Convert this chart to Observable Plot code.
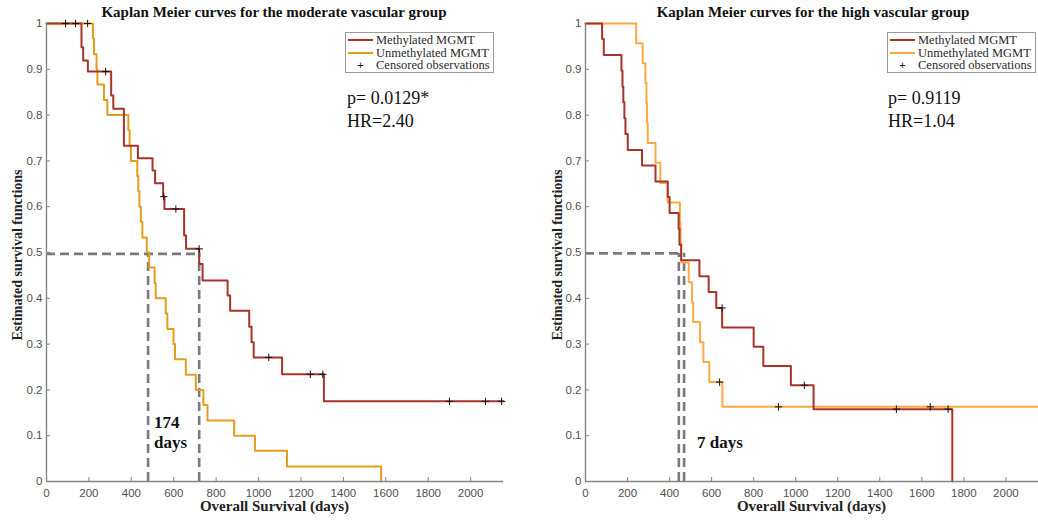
<!DOCTYPE html>
<html>
<head>
<meta charset="utf-8">
<script src="https://cdn.jsdelivr.net/npm/d3@7"></script>
<script src="https://cdn.jsdelivr.net/npm/@observablehq/plot@0.6"></script>
<style>
  body { margin: 0; background: #fff; }
  #wrap { position: relative; width: 1038px; height: 522px; overflow: hidden; background: #fff; }
  .panel { position: absolute; top: 0; width: 519px; height: 522px; }
  .title { position: absolute; top: 4px; font: bold 15px "Liberation Serif", serif; line-height: 17px; color: #111; white-space: nowrap; transform: translateX(-50%); }
  .xlab { position: absolute; top: 498px; font: bold 15px "Liberation Serif", serif; line-height: 17px; color: #222; white-space: nowrap; transform: translateX(-50%); }
  .ylab { position: absolute; font: bold 14px "Liberation Serif", serif; line-height: 16px; color: #222; white-space: nowrap; transform: translate(-50%, -50%) rotate(-90deg); }
  .legend { position: absolute; top: 32px; width: 149px; height: 41px; border: 1px solid #9a9a9a; background: #fff; box-sizing: border-box; font: 12.5px "Liberation Serif", serif; color: #2a2a2a; }
  .row { position: absolute; left: 2px; height: 13px; line-height: 13px; white-space: nowrap; }
  .sw { display: inline-block; width: 25px; height: 2px; vertical-align: middle; margin-right: 3px; position: relative; top: -1px; text-align: center; }
  .plus { display: inline-block; width: 25px; margin-right: 3px; text-align: center; font: 11px "Liberation Sans", sans-serif; color: #111; }
  .stat { position: absolute; font: 18px "Liberation Serif", serif; line-height: 23px; color: #111; white-space: nowrap; }
  .ann { position: absolute; font: bold 17px "Liberation Serif", serif; line-height: 20px; color: #111; white-space: nowrap; }
</style>
</head>
<body>
<div id="wrap"></div>
<script>
// ---------- shared axis values ----------
const xMax = 2155;
const xTicks = [0, 200, 400, 600, 800, 1000, 1200, 1400, 1600, 1800, 2000];
const yTicks = [0, 0.1, 0.2, 0.3, 0.4, 0.5, 0.6, 0.7, 0.8, 0.9, 1];

// ---------- moderate vascular group ----------
const modMethTime = [0, 165, 173, 195, 305, 315, 365, 431, 500, 512, 550, 556, 649, 658, 720, 736, 854, 866, 956, 967, 977, 1111, 1308, 2155];
const modMethSurv = [1, 0.948, 0.919, 0.895, 0.843, 0.814, 0.733, 0.706, 0.679, 0.651, 0.622, 0.595, 0.537, 0.508, 0.475, 0.439, 0.406, 0.373, 0.338, 0.304, 0.271, 0.234, 0.175, 0.175];
const modUnmethTime = [0, 219, 224, 236, 240, 271, 287, 386, 392, 398, 428, 433, 438, 445, 452, 473, 484, 510, 515, 562, 570, 599, 606, 657, 704, 740, 759, 885, 983, 1134, 1578];
const modUnmethSurv = [1, 0.967, 0.933, 0.9, 0.867, 0.833, 0.8, 0.767, 0.733, 0.7, 0.667, 0.633, 0.6, 0.567, 0.533, 0.5, 0.467, 0.433, 0.4, 0.367, 0.333, 0.3, 0.267, 0.233, 0.2, 0.167, 0.133, 0.1, 0.067, 0.033, 0];
const modCensTime = [90, 137, 194, 279, 553, 610, 720, 1048, 1244, 1303, 1900, 2070, 2146];
const modCensSurv = [1, 1, 1, 0.895, 0.622, 0.595, 0.508, 0.271, 0.234, 0.234, 0.175, 0.175, 0.175];
const modMedianSurv = 0.497;
const modMedians = [479, 720];
const modP = "p= 0.0129*";
const modHR = "HR=2.40";
const modDiff = ["174", "days"];

// ---------- high vascular group ----------
const highMethTime = [0, 79, 87, 171, 176, 180, 185, 190, 201, 269, 333, 391, 400, 443, 447, 455, 542, 586, 622, 650, 800, 846, 977, 1085, 1745];
const highMethSurv = [1, 0.966, 0.931, 0.897, 0.862, 0.828, 0.793, 0.759, 0.724, 0.69, 0.655, 0.621, 0.586, 0.552, 0.517, 0.483, 0.448, 0.414, 0.379, 0.336, 0.294, 0.252, 0.21, 0.158, 0];
const highUnmethTime = [0, 241, 272, 285, 290, 293, 296, 333, 356, 391, 449, 452, 455, 491, 507, 512, 545, 561, 589, 651, 2155];
const highUnmethSurv = [1, 0.957, 0.913, 0.87, 0.826, 0.783, 0.739, 0.696, 0.652, 0.609, 0.565, 0.522, 0.478, 0.435, 0.391, 0.348, 0.304, 0.261, 0.217, 0.163, 0.163];
const highCensTime = [650, 1041, 1479, 1725, 638, 918, 1640];
const highCensSurv = [0.379, 0.21, 0.158, 0.158, 0.217, 0.163, 0.163];
const highMedianSurv = 0.498;
const highMedians = [444, 469];
const highP = "p= 0.9119";
const highHR = "HR=1.04";
const highDiff = ["7 days"];

const seriesNames = ["Methylated MGMT", "Unmethylated MGMT", "Censored observations"];
const titles = ["Kaplan Meier curves for the moderate vascular group", "Kaplan Meier curves for the high vascular group"];
const xLabel = "Overall Survival (days)";
const yLabel = "Estimated survival functions";

const zip = (t, s) => t.map((d, i) => ({t: d, s: s[i]}));
const axisColor = "#858585";

function makePlot(cfg) {
  const H = 522, mt = 23, mb = 41;
  const innerW = 519 - cfg.ml - cfg.mr, innerH = H - mt - mb;
  const dash = {stroke: "#7a7a7a", strokeWidth: 2.6, strokeDasharray: "9,5"};
  return Plot.plot({
    width: 519, height: H,
    marginTop: mt, marginBottom: mb, marginLeft: cfg.ml, marginRight: cfg.mr,
    x: {domain: [0, xMax]},
    y: {domain: [0, 1]},
    style: {fontFamily: "'Liberation Sans', Arial, sans-serif", fontSize: "11.5px", color: "#505050", background: "transparent", overflow: "visible"},
    marks: [
      Plot.tickX(xTicks, {x: d => d, stroke: axisColor, insetTop: innerH - 4}),
      Plot.tickY(yTicks, {y: d => d, stroke: axisColor, insetRight: innerW - 4}),
      Plot.axisX({ticks: xTicks, tickSize: 0, tickPadding: 7, tickFormat: d => String(d), label: null}),
      Plot.axisY({ticks: yTicks, tickSize: 0, tickPadding: 4, tickFormat: d => String(+d.toFixed(1)), label: null}),
      Plot.ruleY([cfg.medianSurv], {x1: 0, x2: Math.max(...cfg.medians), ...dash}),
      Plot.ruleX(cfg.medians, {x: d => d, y1: 0, y2: cfg.medianSurv, ...dash}),
      Plot.line(cfg.unmeth, {x: "t", y: "s", curve: "step-after", stroke: cfg.orange, strokeWidth: 2}),
      Plot.line(cfg.meth, {x: "t", y: "s", curve: "step-after", stroke: cfg.red, strokeWidth: 2}),
      Plot.dot(cfg.cens, {x: "t", y: "s", symbol: "plus", r: 2.5, stroke: "#111", strokeWidth: 1}),
      Plot.ruleY([0], {stroke: axisColor, strokeWidth: 1.4}),
      Plot.ruleX([0], {stroke: axisColor, strokeWidth: 1.4})
    ]
  });
}

const wrap = document.getElementById("wrap");
function el(cls, css, html) {
  const d = document.createElement("div");
  d.className = cls;
  Object.assign(d.style, css);
  d.innerHTML = html;
  wrap.appendChild(d);
  return d;
}

const panels = [
  {left: 0, ml: 46, mr: 16, red: "#a8332b", orange: "#e59c1f",
   meth: zip(modMethTime, modMethSurv), unmeth: zip(modUnmethTime, modUnmethSurv), cens: zip(modCensTime, modCensSurv),
   medianSurv: modMedianSurv, medians: modMedians,
   title: titles[0], titleX: 274, ylabX: 18, legendX: 345, statX: 347, p: modP, hr: modHR,
   ann: modDiff, annX: 154, annTop: 413},
  {left: 519, ml: 66, mr: 0, red: "#a8332b", orange: "#fba945",
   meth: zip(highMethTime, highMethSurv), unmeth: zip(highUnmethTime, highUnmethSurv), cens: zip(highCensTime, highCensSurv),
   medianSurv: highMedianSurv, medians: highMedians,
   title: titles[1], titleX: 813, ylabX: 558, legendX: 887, statX: 888, p: highP, hr: highHR,
   ann: highDiff, annX: 697, annTop: 433}
];

for (const cfg of panels) {
  const holder = el("panel", {left: cfg.left + "px"}, "");
  holder.appendChild(makePlot(cfg));
  const plotCenter = cfg.left + cfg.ml + (519 - cfg.ml - cfg.mr) / 2;
  el("title", {left: cfg.titleX + "px"}, cfg.title);
  el("xlab", {left: plotCenter + "px"}, xLabel);
  el("ylab", {left: cfg.ylabX + "px", top: "255px"}, yLabel);
  el("legend", {left: cfg.legendX + "px"},
    `<div class="row" style="top:1px"><span class="sw" style="background:${cfg.red}"></span>${seriesNames[0]}</div>` +
    `<div class="row" style="top:13.5px"><span class="sw" style="background:${cfg.orange}"></span>${seriesNames[1]}</div>` +
    `<div class="row" style="top:26px"><span class="plus">+</span>${seriesNames[2]}</div>`);
  el("stat", {left: cfg.statX + "px", top: "87px"}, cfg.p + "<br>" + cfg.hr);
  el("ann", {left: cfg.annX + "px", top: cfg.annTop + "px"}, cfg.ann.join("<br>"));
}
</script>
</body>
</html>
